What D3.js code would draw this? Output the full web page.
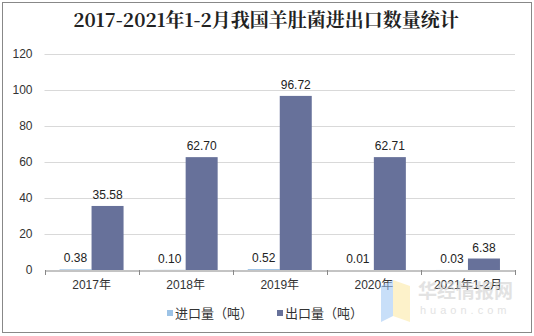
<!DOCTYPE html>
<html><head><meta charset="utf-8">
<script src="https://cdn.jsdelivr.net/npm/d3@7"></script>
<style>body{margin:0;background:#fff}svg{display:block}</style>
</head><body>
<svg id="c" width="534" height="336"></svg>
<script>
const categories = ["2017年","2018年","2019年","2020年","2021年1-2月"];
const importVals = [0.38,0.10,0.52,0.01,0.03];
const exportVals = [35.58,62.70,96.72,62.71,6.38];
const seriesNames = ["进口量（吨）","出口量（吨）"];
const yTicks = [0,20,40,60,80,100,120];
const colors = ["#9DC3E6","#67719A"];

(function(){
const svg = d3.select("#c");
svg.append("rect").attr("x",2.5).attr("y",2.5).attr("width",529).attr("height",330)
  .attr("fill","#fff").attr("stroke","#888").attr("stroke-width",1);

svg.append("text").attr("x",266).attr("y",27).attr("text-anchor","middle")
  .attr("font-family","'Noto Serif CJK SC','Noto Sans CJK SC',serif").attr("font-weight","bold")
  .attr("font-size",19).attr("fill","#222").text("2017-2021年1-2月我国羊肚菌进出口数量统计");

const mL=44.5, mR=515, mT=54, mB=270;
const y = d3.scaleLinear().domain([0,120]).range([mB,mT]);
const x = d3.scaleBand().domain(categories).range([mL,mR]).paddingInner(0).paddingOuter(0);
const x1 = d3.scaleBand().domain([0,1]).range([0,x.bandwidth()]).paddingInner(0).paddingOuter(0.47);

svg.append("g").selectAll("line").data(yTicks.filter(d=>d>0)).join("line")
  .attr("x1",mL).attr("x2",mR).attr("y1",d=>Math.round(y(d))+0.5).attr("y2",d=>Math.round(y(d))+0.5)
  .attr("stroke","#d9d9d9");

const yAxis = d3.axisLeft(y).tickValues(yTicks).tickSize(0).tickPadding(12);
const gy = svg.append("g").attr("transform",`translate(${mL},0)`).call(yAxis);
gy.select(".domain").remove();
gy.selectAll("text").attr("font-family","'Liberation Sans',Arial,sans-serif").attr("font-size",12).attr("fill","#333");

const data = categories.map((c,i)=>({c, v:[importVals[i],exportVals[i]]}));
const groups = svg.append("g").selectAll("g").data(data).join("g")
  .attr("transform",d=>`translate(${x(d.c)},0)`);
groups.selectAll("rect").data(d=>d.v.map((v,k)=>({v,k}))).join("rect")
  .attr("x",d=>x1(d.k)).attr("width",x1.bandwidth())
  .attr("y",d=>y(d.v)).attr("height",d=>mB-y(d.v)).attr("fill",d=>colors[d.k]);
groups.selectAll("text").data(d=>d.v.map((v,k)=>({v,k}))).join("text")
  .attr("x",d=>x1(d.k)+x1.bandwidth()/2).attr("y",d=>y(d.v)-7)
  .attr("text-anchor","middle").attr("font-family","'Liberation Sans',Arial,sans-serif")
  .attr("font-size",12).attr("fill","#222").text(d=>d.v.toFixed(2));

const xAxis = d3.axisBottom(x).tickSize(0).tickPadding(10);
const gx = svg.append("g").attr("transform",`translate(0,${mB+0.5})`).call(xAxis);
gx.select(".domain").attr("stroke","#888");
gx.selectAll("text").attr("font-family","'Liberation Sans','Noto Sans CJK SC',sans-serif").attr("font-size",12).attr("fill","#333");
const bounds = categories.map(c=>x(c)).concat([mR]);
svg.append("g").selectAll("line").data(bounds).join("line")
  .attr("x1",d=>Math.round(d)+0.5).attr("x2",d=>Math.round(d)+0.5).attr("y1",mB).attr("y2",mB+5).attr("stroke","#888");

const wm = svg.append("g").attr("opacity",0.55);
wm.append("path").attr("d","M381,286 L393,280 L393,316 L381,322 Z").attr("fill","#9cc5f5");
wm.append("path").attr("d","M393,280 L410,286 L410,322 L393,316 Z").attr("fill","#fde9a0");
wm.append("text").attr("x",418).attr("y",298).attr("font-family","'Noto Sans CJK SC',sans-serif").attr("font-weight","bold")
  .attr("font-size",19).attr("fill","#ccc").text("华经情报网");
wm.append("text").attr("x",420).attr("y",314).attr("font-family","'Liberation Sans',sans-serif")
  .attr("font-size",11).attr("letter-spacing",4).attr("fill","#ccc").text("huaon.com");

const lg = svg.append("g");
const lx = [167,277];
seriesNames.forEach((n,i)=>{
  lg.append("rect").attr("x",lx[i]).attr("y",310).attr("width",6).attr("height",6).attr("fill",colors[i]);
  lg.append("text").attr("x",lx[i]+8).attr("y",318).attr("font-family","'Noto Sans CJK SC',sans-serif")
    .attr("font-size",13).attr("fill","#333").text(n);
});
})();
</script>
</body></html>
